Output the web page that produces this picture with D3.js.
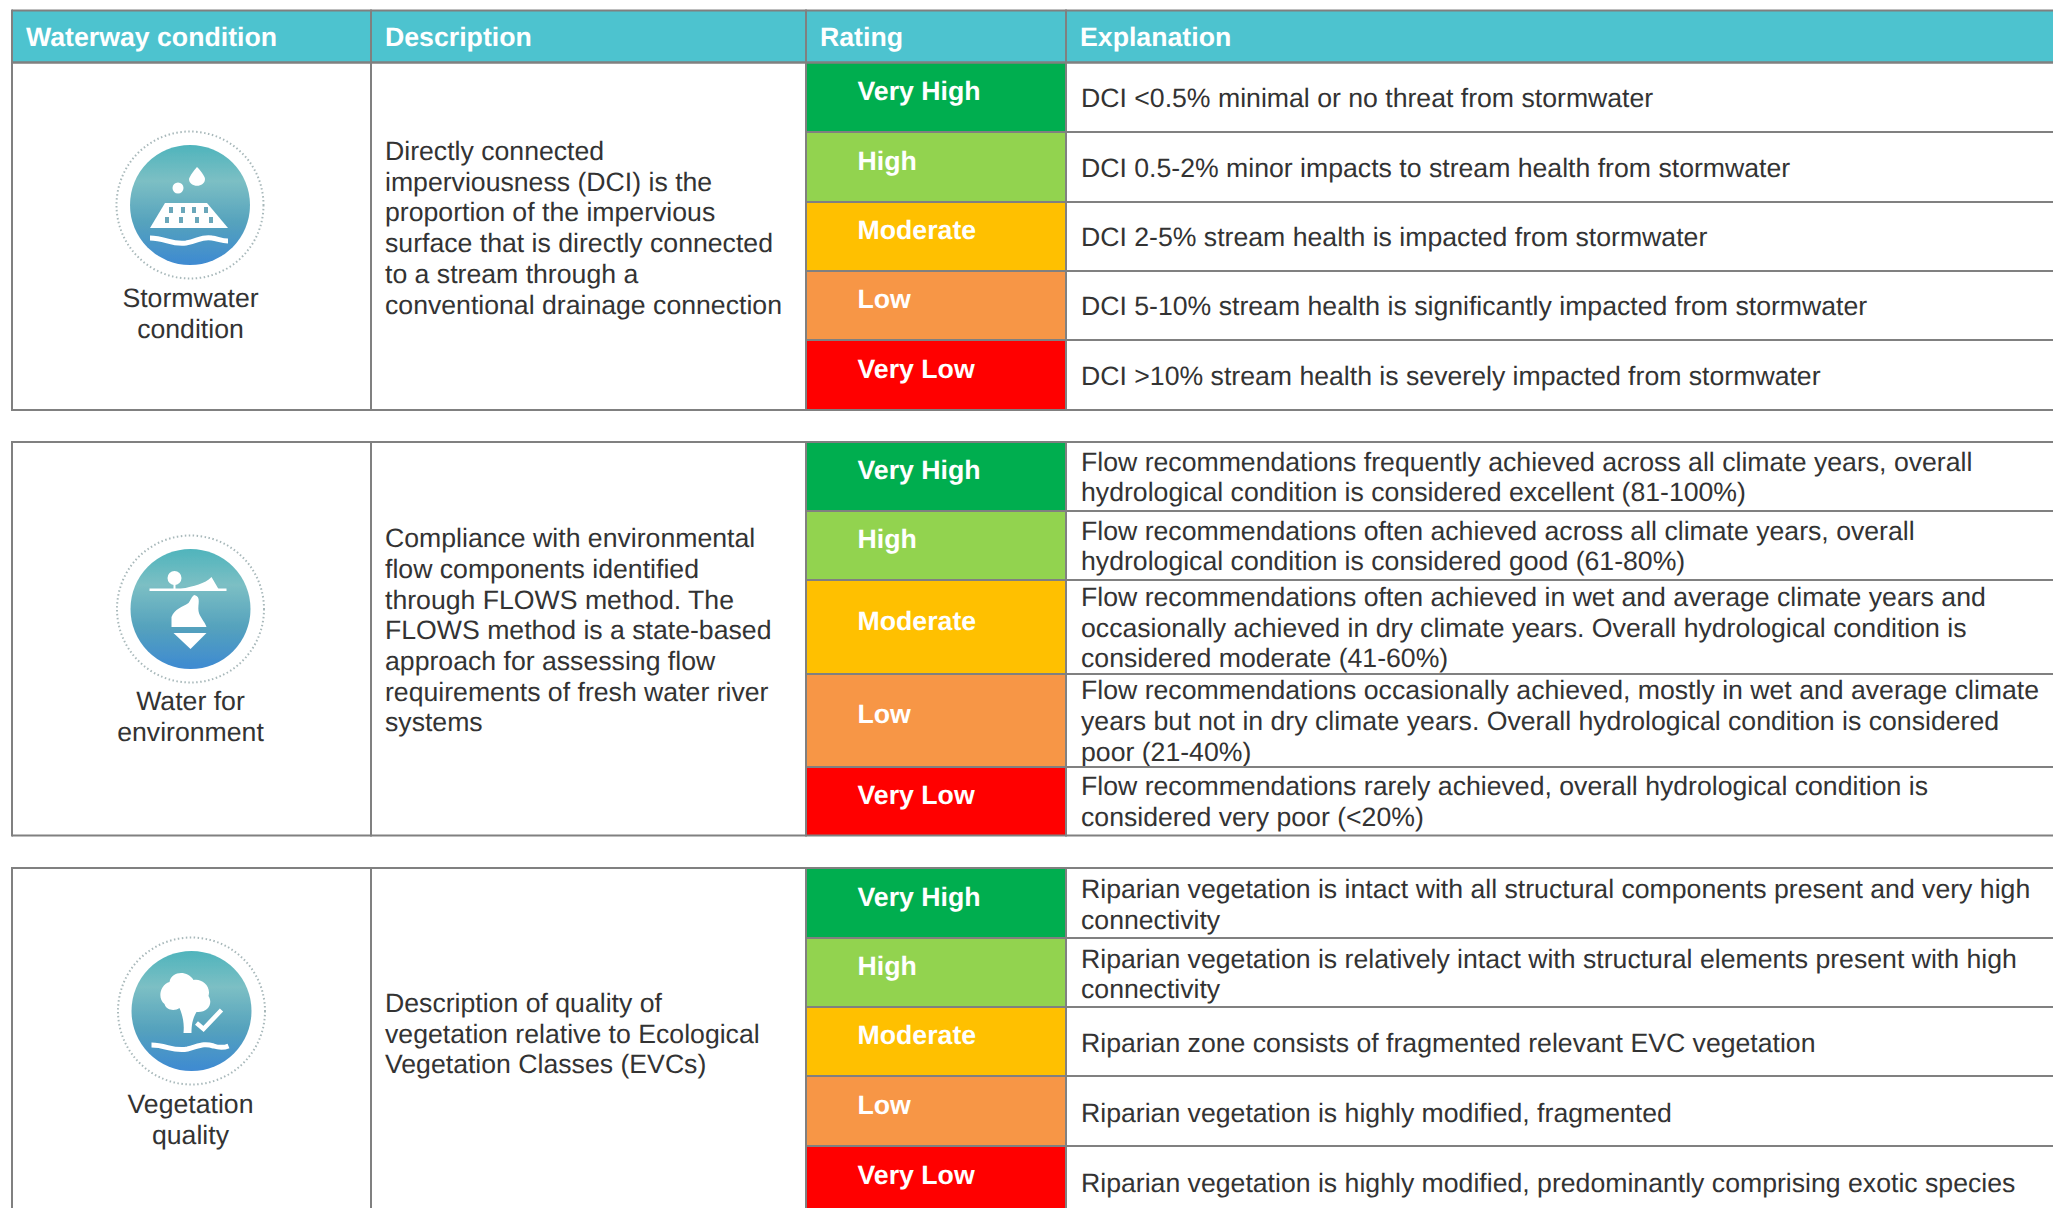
<!DOCTYPE html>
<html>
<head>
<meta charset="utf-8">
<script src="https://cdn.jsdelivr.net/npm/d3@7"></script>
<style>
  body { margin: 0; background: #fff; overflow: hidden; }
  text { font-family: "Liberation Sans", Arial, sans-serif; text-rendering: geometricPrecision; }
</style>
</head>
<body>
<div id="chart"></div>
<script>
// Header and rating names
const columns = ['Waterway condition', 'Description', 'Rating', 'Explanation'];
const ratings = ['Very High', 'High', 'Moderate', 'Low', 'Very Low'];
const ratingColors = ['#00ae4f', '#92d34f', '#ffc000', '#f79646', '#ff0000'];

const conditionNames = [
  ['Stormwater', 'condition'],
  ['Water for', 'environment'],
  ['Vegetation', 'quality']
];

const descriptions = [
  ['Directly connected', 'imperviousness (DCI) is the', 'proportion of the impervious', 'surface that is directly connected', 'to a stream through a', 'conventional drainage connection'],
  ['Compliance with environmental', 'flow components identified', 'through FLOWS method. The', 'FLOWS method is a state-based', 'approach for assessing flow', 'requirements of fresh water river', 'systems'],
  ['Description of quality of', 'vegetation relative to Ecological', 'Vegetation Classes (EVCs)']
];

const explanations = [
  [
    ['DCI <0.5% minimal or no threat from stormwater'],
    ['DCI 0.5-2% minor impacts to stream health from stormwater'],
    ['DCI 2-5% stream health is impacted from stormwater'],
    ['DCI 5-10% stream health is significantly impacted from stormwater'],
    ['DCI >10% stream health is severely impacted from stormwater']
  ],
  [
    ['Flow recommendations frequently achieved across all climate years, overall', 'hydrological condition is considered excellent (81-100%)'],
    ['Flow recommendations often achieved across all climate years, overall', 'hydrological condition is considered good (61-80%)'],
    ['Flow recommendations often achieved in wet and average climate years and', 'occasionally achieved in dry climate years. Overall hydrological condition is', 'considered moderate (41-60%)'],
    ['Flow recommendations occasionally achieved, mostly in wet and average climate', 'years but not in dry climate years. Overall hydrological condition is considered', 'poor (21-40%)'],
    ['Flow recommendations rarely achieved, overall hydrological condition is', 'considered very poor (<20%)']
  ],
  [
    ['Riparian vegetation is intact with all structural components present and very high', 'connectivity'],
    ['Riparian vegetation is relatively intact with structural elements present with high', 'connectivity'],
    ['Riparian zone consists of fragmented relevant EVC vegetation'],
    ['Riparian vegetation is highly modified, fragmented'],
    ['Riparian vegetation is highly modified, predominantly comprising exotic species']
  ]
];

// Row boundaries of each block
const rowEdges = [
  [62.5, 132, 202, 271, 340, 410],
  [442, 511, 580, 674, 767, 835.5],
  [868, 938, 1007, 1076, 1146, 1216]
];

const colEdges = [12, 371, 806, 1066, 2060];
const headerTop = 10.5;
const headerBottom = 62.5;
const lineColor = '#808080';
const textColor = '#333333';
const lineH = 30.7;
const bodySize = 26.65;
const boldSize = 26.7;

const svg = d3.select('#chart').append('svg')
  .attr('width', 2053)
  .attr('height', 1208);

const defs = svg.append('defs');
const grad = defs.append('linearGradient')
  .attr('id', 'ballFill')
  .attr('x1', 0).attr('y1', 0).attr('x2', 0).attr('y2', 1);
grad.append('stop').attr('offset', '0%').attr('stop-color', '#4fb4bc');
grad.append('stop').attr('offset', '30%').attr('stop-color', '#7cbfc4');
grad.append('stop').attr('offset', '65%').attr('stop-color', '#55a2bd');
grad.append('stop').attr('offset', '100%').attr('stop-color', '#3e8ad2');

defs.append('filter').attr('id', 'soft')
  .append('feGaussianBlur').attr('stdDeviation', 0.7);

// Header
svg.append('rect')
  .attr('x', colEdges[0]).attr('y', headerTop)
  .attr('width', 2053 - colEdges[0]).attr('height', headerBottom - headerTop)
  .attr('fill', '#4dc3cf');

svg.selectAll('text.head')
  .data(columns)
  .enter()
  .append('text')
  .attr('class', 'head')
  .attr('x', (d, i) => colEdges[i] + 14)
  .attr('y', 45.5)
  .attr('fill', '#fff')
  .attr('font-size', boldSize)
  .attr('font-weight', 'bold')
  .text(d => d);

function hLine(y, x1, x2) {
  svg.append('line').attr('x1', x1).attr('x2', x2).attr('y1', y).attr('y2', y)
    .attr('stroke', lineColor).attr('stroke-width', 2);
}
function vLine(x, y1, y2) {
  svg.append('line').attr('x1', x).attr('x2', x).attr('y1', y1).attr('y2', y2)
    .attr('stroke', lineColor).attr('stroke-width', 2);
}

// Icon pictures, white shapes on the round badge
const iconDrawers = [
  g => {
    g.append('path').attr('d', 'M-40,23 L-25,-2 L17,-2 L38,23 Z').attr('fill', '#fff');
    [-19, -7, 4, 16].forEach(x => {
      g.append('rect').attr('x', x - 2).attr('y', 2).attr('width', 4).attr('height', 6).attr('fill', '#6aa7ba');
    });
    [-23, -9, 7, 21].forEach(x => {
      g.append('rect').attr('x', x - 2).attr('y', 12).attr('width', 4).attr('height', 6).attr('fill', '#6aa7ba');
    });
    g.append('path').attr('d', 'M7,-38 C0,-30 -1,-26 -1,-26 C-1,-17 15,-17 15,-26 C15,-28 12,-33 7,-38 Z').attr('fill', '#fff');
    g.append('circle').attr('cx', -12).attr('cy', -17).attr('r', 5.5).attr('fill', '#fff');
    g.append('path').attr('d', 'M-40,33 C-25,33 -18,40 -4,38 C8,36 12,31 22,33 C28,34 32,36 38,36').attr('fill', 'none').attr('stroke', '#fff').attr('stroke-width', 5);
  },
  g => {
    g.append('rect').attr('x', -41).attr('y', -20.5).attr('width', 77).attr('height', 2.5).attr('fill', '#fff');
    g.append('circle').attr('cx', -16).attr('cy', -31).attr('r', 7).attr('fill', '#fff');
    g.append('rect').attr('x', -17).attr('y', -26).attr('width', 2).attr('height', 7).attr('fill', '#fff');
    g.append('path').attr('d', 'M-10,-20 C4,-23 14,-25 21,-32 L28,-20 Z').attr('fill', '#fff');
    g.append('path').attr('d', 'M4,-14 C11,-12 7,-5 8,2 C9,8 14,12 16,18 L-19,18 L-19,8 C-16,0 -8,-2 -2,-6 C0,-8 1,-13 4,-14 Z').attr('fill', '#fff');
    g.append('path').attr('d', 'M-17,24 L16,24 L0,40 Z').attr('fill', '#fff');
  },
  g => {
    g.append('path').attr('d', 'M-8,22 L0,22 C0,14 1,8 5,1 C16,2 22,-7 17,-15 C20,-26 9,-33 2,-31 C-4,-41 -20,-40 -22,-29 C-32,-26 -34,-12 -27,-7 C-25,0 -16,0 -12,-3 C-9,4 -7,12 -8,22 Z').attr('fill', '#fff');
    g.append('path').attr('d', 'M5,12 L12,18 L30,-1').attr('fill', 'none').attr('stroke', '#fff').attr('stroke-width', 4.5);
    g.append('path').attr('d', 'M-40,34 C-25,34 -18,41 -4,38 C8,35 12,32 22,35 C28,37 32,37 37,35').attr('fill', 'none').attr('stroke', '#fff').attr('stroke-width', 5);
  }
];

const iconX = [190, 190.5, 191.5];
const iconY = [205, 609, 1011];
const nameY = [306.5, 709.5, 1112.5];
const explainShift = [0, 0, 1];

rowEdges.forEach((edges, b) => {
  const top = edges[0];
  const bottom = edges[edges.length - 1];
  const rowData = ratings.map((r, i) => ({name: r, color: ratingColors[i], y0: edges[i], y1: edges[i + 1], lines: explanations[b][i]}));

  const rows = svg.append('g').selectAll('g').data(rowData).enter().append('g');

  rows.append('rect')
    .attr('x', colEdges[2]).attr('y', d => d.y0)
    .attr('width', colEdges[3] - colEdges[2]).attr('height', d => d.y1 - d.y0)
    .attr('fill', d => d.color);

  rows.append('text')
    .attr('x', colEdges[2] + 51.5)
    .attr('y', d => (d.y0 + d.y1) / 2 + 2.5)
    .attr('fill', '#fff')
    .attr('font-size', boldSize)
    .attr('font-weight', 'bold')
    .text(d => d.name);

  rows.selectAll('text.exp')
    .data(d => d.lines.map((l, i) => ({l, i, n: d.lines.length, mid: (d.y0 + d.y1) / 2})))
    .enter()
    .append('text')
    .attr('class', 'exp')
    .attr('x', colEdges[3] + 15)
    .attr('y', d => d.mid + (d.i - (d.n - 1) / 2) * lineH + 9.5 + explainShift[b])
    .attr('fill', textColor)
    .attr('font-size', bodySize)
    .text(d => d.l);

  // Row rules across rating and explanation columns
  edges.forEach(y => hLine(y, colEdges[2], 2053));
  hLine(top, colEdges[0], colEdges[2]);
  hLine(bottom, colEdges[0], colEdges[2]);
  [0, 1, 2, 3].forEach(i => vLine(colEdges[i], top - 1, bottom + 1));

  // Description
  const desc = descriptions[b];
  const descMid = (top + bottom) / 2;
  svg.append('g').selectAll('text').data(desc).enter().append('text')
    .attr('x', colEdges[1] + 14)
    .attr('y', (d, i) => descMid + (i - (desc.length - 1) / 2) * lineH + 0.5)
    .attr('fill', textColor)
    .attr('font-size', bodySize)
    .text(d => d);

  // Badge and name
  const icon = svg.append('g').attr('transform', `translate(${iconX[b]},${iconY[b]})`).attr('filter', 'url(#soft)');
  icon.append('circle').attr('r', 73.5).attr('fill', 'none')
    .attr('stroke', '#a8b8ba').attr('stroke-width', 2).attr('stroke-dasharray', '1.5 2.5');
  icon.append('circle').attr('r', 60).attr('fill', 'url(#ballFill)');
  iconDrawers[b](icon);

  svg.append('g').selectAll('text').data(conditionNames[b]).enter().append('text')
    .attr('x', 190.5)
    .attr('y', (d, i) => nameY[b] + i * 31)
    .attr('text-anchor', 'middle')
    .attr('fill', textColor)
    .attr('font-size', bodySize)
    .text(d => d);
});

// Header rules go on top of the teal band
hLine(headerTop, colEdges[0], 2053);
hLine(headerBottom, colEdges[0], 2053);
[0, 1, 2, 3].forEach(i => vLine(colEdges[i], headerTop - 1, headerBottom + 1));
</script>
</body>
</html>
